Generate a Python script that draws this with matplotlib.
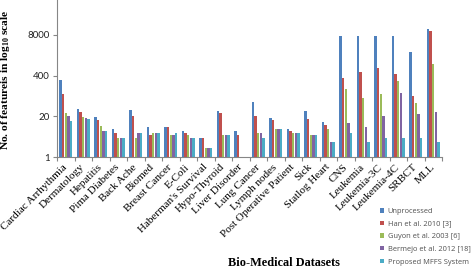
import numpy as np
import matplotlib
matplotlib.use("Agg")
import matplotlib.pyplot as plt
from matplotlib.ticker import FixedLocator

plt.rcParams['mathtext.fontset'] = 'custom'
plt.rcParams['mathtext.rm'] = 'Liberation Serif:bold'
plt.rcParams['mathtext.it'] = 'Liberation Serif:bold'
plt.rcParams['mathtext.bf'] = 'Liberation Serif:bold'

datasets = ["Cardiac Arrhythmia", "Dermatology", "Hepatitis", "Pima Diabetes", "Back Ache",
            "Biomed", "Breast Cancer", "E-Coli", "Haberman's Survival", "Hypo-Thyroid",
            "Liver Disorder", "Lung Cancer", "Lymph nodes", "Post Operative Patient", "Sick",
            "Statlog Heart", "CNS", "Leukemia", "Leukemia-3C", "Leukemia-4C", "SRBCT", "MLL"]

nan = np.nan
unprocessed = [279, 34, 19, 8, 32, 9, 9, 7, 4, 29, 7, 56, 18, 8, 29, 13, 7129, 7129, 7129, 7129, 2308, 12582]
han2010     = [100, 27, 15, 6, 20, 5, 9, 6, 4, 25, 5, 20, 15, 7, 17, 11, 336, 521, 718, 440, 88, 10700]
guyon2003   = [25, 19, 10, 4, 4, 6, 5, 5, 2, 5, nan, 6, 8, 6, 5, 8, 155, 80, 100, 278, 53, 934]
bermejo2012 = [20, 18, 7, 4, 6, 6, 5, 4, 2, 5, nan, 6, 8, 6, 5, 3, 12, 9, 20, 110, 24, 27]
proposed    = [14, 17, 7, 4, 6, 6, 6, 4, 2, 5, nan, 4, 8, 6, 5, 3, 6, 3, 4, 4, 4, 3]

series = [unprocessed, han2010, guyon2003, bermejo2012, proposed]
labels = ["Unprocessed", "Han et al. 2010 [3]", "Guyon et al. 2003 [6]",
          "Bermejo et al. 2012 [18]", "Proposed MFFS System"]
colors = ["#4F81BD", "#C0504D", "#9BBB59", "#8064A2", "#4BACC6"]
yticks = [1, 20, 400, 8000]

W, H = 475, 271
fig = plt.figure(figsize=(W / 100, H / 100), dpi=100)
ax = fig.add_axes([57 / W, 1 - 157.3 / H, 385 / W, 157.3 / H])

x = np.arange(len(datasets))
bw = 0.15
handles = []
for i, (vals, lab, col) in enumerate(zip(series, labels, colors)):
    b = ax.bar(x + (i - 2) * bw, vals, width=bw * 0.95, color=col, label=lab, bottom=0)
    handles.append(b)

ax.set_yscale('log')
ax.set_ylim(1, 20 ** 3.85)
ax.set_xlim(-0.5, len(datasets) - 0.5)
ax.yaxis.set_major_locator(FixedLocator(yticks))
ax.yaxis.set_minor_locator(FixedLocator([]))
ax.set_yticklabels([str(t) for t in yticks], fontsize=7, family='Lato', color='#222222')
ax.tick_params(axis='y', length=3, width=0.8, color='#868686', pad=2)

ax.set_xticks(x)
ax.set_xticklabels(datasets, rotation=45, ha='right', va='center', rotation_mode='anchor',
                   fontsize=8, family='Liberation Serif')
ax.tick_params(axis='x', which='major', length=0, pad=6)
ax.xaxis.set_minor_locator(FixedLocator(np.arange(-0.5, len(datasets), 1.0)))
ax.tick_params(axis='x', which='minor', length=3, width=0.8, color='#868686')

for s in ['top', 'right']:
    ax.spines[s].set_visible(False)
for s in ['left', 'bottom']:
    ax.spines[s].set_color('#868686')
    ax.spines[s].set_linewidth(0.8)

ax.set_ylabel(r"No. of featureis in log$_{10}$ scale", family='Liberation Serif',
              fontweight='bold', fontsize=8.2)
ax.yaxis.set_label_coords(-44.5 / 385, 0.49)

fig.text(284 / W, 1 - 263 / H, "Bio-Medical Datasets", family='Liberation Serif',
         fontweight='bold', fontsize=8.8, ha='center', va='center')

leg = fig.legend(handles=handles, labels=labels, loc='upper left',
                 bbox_to_anchor=(380 / W, 1 - 208 / H), frameon=False,
                 prop={'family': 'Open Sans', 'size': 5.4}, labelspacing=0.75,
                 handlelength=0.55, handleheight=0.55, handletextpad=0.5,
                 borderpad=0, borderaxespad=0)
for t in leg.get_texts():
    t.set_color('#505050')

fig.savefig("out.png", dpi=100)
